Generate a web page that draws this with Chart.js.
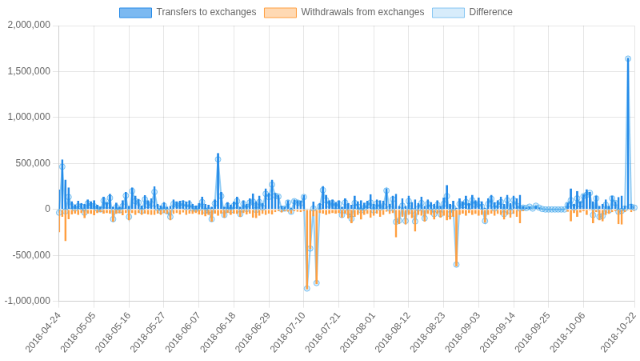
<!DOCTYPE html>
<html>
<head>
<meta charset="utf-8">
<script src="https://cdn.jsdelivr.net/npm/chart.js@4/dist/chart.umd.min.js"></script>
<style>
  html, body { margin: 0; padding: 0; background: #fff; overflow: hidden; }
  #wrap { width: 800px; height: 451px; transform: scale(0.8); transform-origin: 0 0; }
</style>
</head>
<body>
<div id="wrap"><canvas id="c" width="800" height="451"></canvas></div>
<script>
// Category range (daily)
const startDate = '2018-04-24';
const endDate = '2018-10-22';

// Tick labels shown on the x axis
const xTickLabels = ['2018-04-24','2018-05-05','2018-05-16','2018-05-27','2018-06-07','2018-06-18',
  '2018-06-29','2018-07-10','2018-07-21','2018-08-01','2018-08-12','2018-08-23','2018-09-03',
  '2018-09-14','2018-09-25','2018-10-06','2018-10-22'];

// Y axis ticks
const yTicks = [-1000000, -500000, 0, 500000, 1000000, 1500000, 2000000];

const seriesNames = ['Transfers to exchanges', 'Withdrawals from exchanges', 'Difference'];

const transfers = [
  215000,545000,325000,240000,90000,55000,95000,70000,60000,110000,90000,
  100000,50000,30000,140000,80000,170000,30000,75000,30000,100000,190000,
  40000,240000,150000,115000,45000,155000,100000,120000,250000,60000,45000,
  80000,30000,40000,110000,90000,95000,100000,85000,100000,60000,45000,
  70000,140000,60000,50000,30000,110000,615000,190000,30000,80000,50000,
  85000,140000,30000,100000,60000,120000,175000,90000,150000,70000,230000,
  180000,325000,180000,160000,40000,30000,100000,20000,110000,100000,95000,
  155000,10000,5000,85000,10000,70000,255000,160000,100000,110000,80000,
  100000,30000,120000,70000,50000,150000,90000,100000,75000,95000,165000,
  60000,110000,100000,95000,230000,60000,150000,170000,40000,120000,40000,
  150000,80000,110000,70000,140000,40000,110000,80000,60000,100000,40000,
  130000,265000,60000,95000,20000,120000,90000,150000,70000,160000,100000,
  130000,90000,20000,120000,160000,80000,100000,140000,60000,160000,70000,
  150000,120000,160000,40000,20000,30000,10000,40000,20000,5000,0,
  0,0,0,0,0,0,75000,230000,60000,200000,90000,
  165000,220000,190000,90000,150000,40000,60000,110000,40000,150000,90000,
  135000,150000,40000,1650000,60000,40000
];

const withdrawals = [
  -250000,-80000,-345000,-105000,-55000,-45000,-60000,-40000,-95000,-45000,-50000,
  -65000,-40000,-30000,-45000,-40000,-45000,-135000,-50000,-40000,-65000,-40000,
  -120000,-40000,-60000,-40000,-60000,-45000,-55000,-60000,-60000,-45000,-60000,
  -40000,-50000,-120000,-50000,-40000,-55000,-35000,-60000,-45000,-50000,-40000,
  -55000,-60000,-75000,-60000,-135000,-45000,-70000,-45000,-90000,-40000,-60000,
  -45000,-50000,-80000,-40000,-55000,-45000,-90000,-95000,-70000,-50000,-60000,
  -45000,-55000,-30000,-20000,-35000,-20000,-25000,-45000,-20000,-25000,-30000,
  -20000,-870000,-430000,-75000,-810000,-40000,-45000,-60000,-50000,-40000,-45000,
  -40000,-90000,-45000,-100000,-150000,-80000,-60000,-110000,-60000,-50000,-90000,
  -70000,-45000,-80000,-60000,-25000,-50000,-40000,-305000,-160000,-80000,-165000,
  -60000,-95000,-240000,-60000,-70000,-135000,-50000,-60000,-110000,-50000,-90000,
  -70000,-120000,-110000,-80000,-620000,-60000,-45000,-70000,-40000,-60000,-50000,
  -70000,-60000,-145000,-60000,-45000,-70000,-50000,-60000,-110000,-60000,-90000,
  -50000,-80000,-150000,-20000,-5000,0,0,0,0,0,0,
  0,0,0,0,0,0,-25000,-130000,-40000,-80000,-35000,
  -20000,-60000,-10000,-150000,-30000,-120000,-130000,-60000,-50000,-30000,-20000,
  -160000,-165000,-30000,-10000,-30000,-20000
];

const difference = [
  -35000,465000,-20000,135000,35000,10000,35000,30000,-35000,65000,40000,
  35000,10000,0,95000,40000,125000,-105000,25000,-10000,35000,150000,
  -80000,200000,90000,75000,-15000,110000,45000,60000,190000,15000,-15000,
  40000,-20000,-80000,60000,50000,40000,65000,25000,55000,10000,5000,
  15000,80000,-15000,-10000,-105000,65000,545000,145000,-60000,40000,-10000,
  40000,90000,-50000,60000,5000,75000,85000,-5000,80000,20000,170000,
  135000,270000,150000,140000,5000,10000,75000,-25000,90000,75000,65000,
  135000,-860000,-425000,10000,-800000,30000,210000,100000,50000,70000,35000,
  60000,-60000,75000,-30000,-100000,70000,30000,-10000,15000,45000,75000,
  -10000,65000,20000,35000,205000,10000,110000,-135000,-120000,40000,-125000,
  90000,-15000,-130000,10000,70000,-95000,60000,20000,-50000,50000,-50000,
  60000,145000,-50000,15000,-600000,60000,45000,80000,30000,100000,50000,
  60000,30000,-125000,60000,115000,10000,50000,80000,-50000,100000,-20000,
  100000,40000,10000,20000,15000,30000,10000,40000,20000,5000,0,
  0,0,0,0,0,0,50000,100000,20000,120000,55000,
  145000,160000,180000,-60000,120000,-80000,-70000,50000,-10000,120000,70000,
  -25000,-15000,10000,1640000,30000,20000
];

// Build daily category labels
const labels = [];
(function () {
  const d = new Date(startDate + 'T00:00:00Z');
  const end = new Date(endDate + 'T00:00:00Z');
  while (d <= end) {
    labels.push(d.toISOString().slice(0, 10));
    d.setUTCDate(d.getUTCDate() + 1);
  }
})();

Chart.defaults.font.family = "'Helvetica Neue', Helvetica, Arial, 'Liberation Sans', sans-serif";
Chart.defaults.font.size = 12;
Chart.defaults.color = '#666';

// v2-style legend centring (trailing item padding counted in the line width)
const legendShift = {
  id: 'legendShift',
  afterUpdate(chart) {
    if (chart.legend && chart.legend.lineWidths && chart.legend.lineWidths.length) {
      chart.legend.lineWidths[0] += 12;
    }
  }
};

new Chart(document.getElementById('c'), {
  type: 'bar',
  data: {
    labels: labels,
    datasets: [
      {
        label: seriesNames[0],
        data: transfers,
        backgroundColor: 'rgba(36,138,232,0.6)',
        borderColor: 'rgb(36,138,232)',
        borderWidth: 2
      },
      {
        label: seriesNames[1],
        data: withdrawals,
        backgroundColor: 'rgba(255,159,64,0.4)',
        borderColor: 'rgb(255,159,64)',
        borderWidth: 2
      },
      {
        type: 'line',
        label: seriesNames[2],
        data: difference,
        backgroundColor: 'rgba(54,162,235,0.2)',
        borderColor: 'rgba(54,162,235,0.55)',
        borderWidth: 2,
        pointRadius: 3.5,
        pointBorderWidth: 1,
        pointBackgroundColor: 'rgba(54,162,235,0.2)',
        pointBorderColor: 'rgba(54,162,235,0.6)',
        fill: false,
        tension: 0
      }
    ]
  },
  plugins: [legendShift],
  options: {
    responsive: false,
    animation: false,
    devicePixelRatio: 1,
    layout: { padding: { left: 2.5, right: 0, top: 0, bottom: 4 } },
    plugins: {
      legend: {
        position: 'top',
        labels: {
          boxWidth: 40, boxHeight: 12, padding: 10, color: '#666',
          generateLabels: function (chart) {
            const items = Chart.defaults.plugins.legend.labels.generateLabels(chart);
            items.forEach(it => { it.lineWidth = 1; });
            return items;
          }
        }
      },
      tooltip: { enabled: false }
    },
    scales: {
      x: {
        stacked: true,
        offset: false,
        grid: { color: 'rgba(0,0,0,0.1)', offset: false, tickLength: 8 },
        afterBuildTicks: function (axis) {
          axis.ticks = axis.ticks.filter(t => xTickLabels.indexOf(labels[t.value]) !== -1);
        },
        afterFit: function (axis) {
          axis.paddingRight = 7;
        },
        ticks: { autoSkip: false, minRotation: 50, maxRotation: 50, color: '#666' }
      },
      y: {
        stacked: true,
        min: yTicks[0],
        max: yTicks[yTicks.length - 1],
        grid: { color: 'rgba(0,0,0,0.1)', tickLength: 8 },
        afterBuildTicks: function (axis) {
          axis.ticks = yTicks.map(v => ({ value: v }));
        },
        ticks: { color: '#666' }
      }
    }
  }
});
</script>
</body>
</html>
